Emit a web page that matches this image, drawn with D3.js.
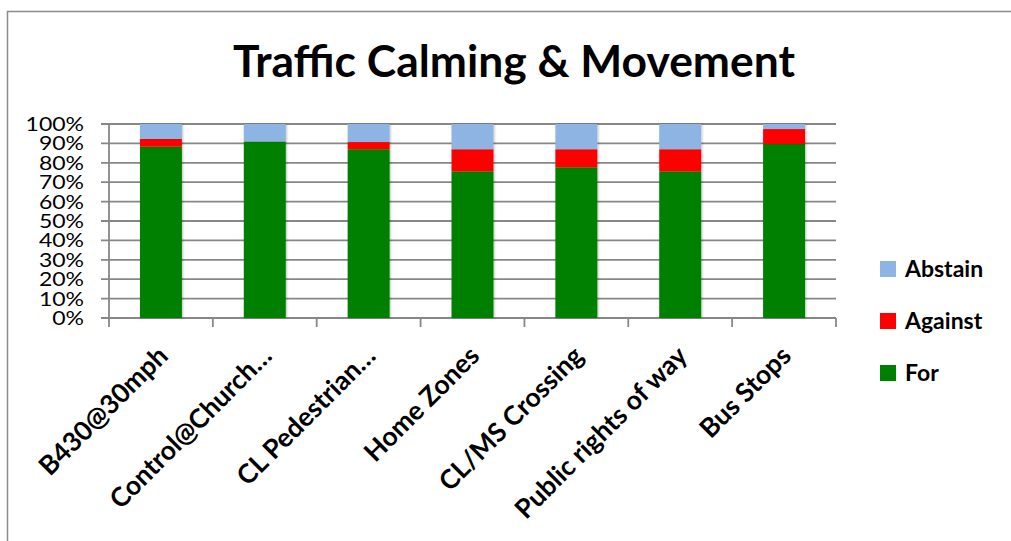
<!DOCTYPE html>
<html>
<head>
<meta charset="utf-8">
<script src="https://cdn.jsdelivr.net/npm/d3@7"></script>
<style>
  html, body { margin: 0; padding: 0; background: #fff; }
  svg { display: block; }
  text { font-family: Lato, "Open Sans", sans-serif; fill: #000; }
</style>
</head>
<body>
<svg id="chart" width="1011" height="541"></svg>
<script>
// Survey responses per proposal (percent of votes)
const categories = ["B430@30mph", "Control@Church…", "CL Pedestrian…", "Home Zones",
                    "CL/MS Crossing", "Public rights of way", "Bus Stops"];
const forValues     = [88.3, 91.0, 87.0, 75.6, 77.7, 75.6, 89.7];
const againstValues = [ 4.0,  0.0,  3.7, 11.4,  9.3, 11.4,  7.7];
const abstainValues = [ 7.7,  9.0,  9.3, 13.0, 13.0, 13.0,  2.6];
const seriesNames   = ["For", "Against", "Abstain"];
const seriesColors  = ["#008000", "#ff0000", "#8eb4e3"];
const yTickValues   = [0, 10, 20, 30, 40, 50, 60, 70, 80, 90, 100];
const chartTitle    = "Traffic Calming & Movement";

const svg = d3.select("#chart");

const defs = svg.append("defs");
const shadow = defs.append("filter").attr("id", "barShadow")
  .attr("x", "-20%").attr("y", "-5%").attr("width", "140%").attr("height", "110%");
shadow.append("feDropShadow").attr("dx", 1).attr("dy", 0).attr("stdDeviation", 1.2)
  .attr("flood-color", "#000").attr("flood-opacity", 0.25);

// Chart frame
svg.append("rect").attr("x", 7.5).attr("y", 11.5).attr("width", 1030).attr("height", 560)
  .attr("fill", "none").attr("stroke", "#8c8c8c").attr("stroke-width", 1.5);

const plot = { left: 109, right: 836, top: 124, bottom: 318 };

const x = d3.scaleBand().domain(categories)
  .range([plot.left, plot.right]).paddingInner(0.596).paddingOuter(0.298);
const y = d3.scaleLinear().domain([0, 100]).range([plot.bottom, plot.top]);
const step = (plot.right - plot.left) / categories.length;

// Horizontal gridlines with short ticks on the left
svg.append("g").selectAll("line").data(yTickValues).join("line")
  .attr("x1", plot.left - 8).attr("x2", plot.right)
  .attr("y1", d => y(d)).attr("y2", d => y(d))
  .attr("stroke", "#878787").attr("stroke-width", 1.8);

// Vertical axis line
svg.append("line").attr("x1", plot.left).attr("x2", plot.left)
  .attr("y1", plot.top).attr("y2", plot.bottom)
  .attr("stroke", "#878787").attr("stroke-width", 1.8);

// Category ticks below the baseline
svg.append("g").selectAll("line").data(d3.range(categories.length + 1)).join("line")
  .attr("x1", i => plot.left + i * step).attr("x2", i => plot.left + i * step)
  .attr("y1", plot.bottom).attr("y2", plot.bottom + 9)
  .attr("stroke", "#878787").attr("stroke-width", 1.8);

// Y axis labels (slightly widened glyphs)
svg.append("g").selectAll("text").data(yTickValues).join("text")
  .attr("transform", d => `translate(84,${y(d)}) scale(1.18,1)`)
  .attr("dy", "0.36em")
  .attr("text-anchor", "end").attr("font-size", 19.5)
  .text(d => d + "%");

// Stacked bars
const rows = categories.map((c, i) => ({
  category: c, For: forValues[i], Against: againstValues[i], Abstain: abstainValues[i]
}));
const stacked = d3.stack().keys(seriesNames)(rows);

svg.append("g").selectAll("g").data(stacked).join("g")
  .attr("fill", (d, i) => seriesColors[i])
  .selectAll("rect").data(d => d).join("rect")
  .attr("x", d => x(d.data.category))
  .attr("width", x.bandwidth())
  .attr("y", d => y(d[1]))
  .attr("height", d => Math.max(0, y(d[0]) - y(d[1])))
  .attr("filter", "url(#barShadow)");

// Rotated category labels
svg.append("g").selectAll("text").data(categories).join("text")
  .attr("transform", d => `translate(${x(d) + x.bandwidth() / 2 + 2},${plot.bottom + 33}) rotate(-45)`)
  .attr("text-anchor", "end").attr("dy", "0.35em")
  .attr("font-size", 26.5).attr("font-weight", "bold")
  .text(d => d);

// Title
svg.append("text").attr("x", 514).attr("y", 77)
  .attr("text-anchor", "middle").attr("font-size", 43).attr("font-weight", "bold")
  .attr("textLength", 562).attr("lengthAdjust", "spacingAndGlyphs")
  .text(chartTitle);

// Legend (top to bottom: Abstain, Against, For)
const legendOrder = [2, 1, 0];
const legend = svg.append("g").selectAll("g").data(legendOrder).join("g")
  .attr("transform", (d, i) => `translate(880,${261 + i * 52})`);
legend.append("rect").attr("width", 16).attr("height", 16)
  .attr("fill", d => seriesColors[d]);
legend.append("text").attr("x", 25).attr("y", 8).attr("dy", "0.36em")
  .attr("font-size", 23).attr("font-weight", "bold")
  .text(d => seriesNames[d]);
</script>
</body>
</html>
